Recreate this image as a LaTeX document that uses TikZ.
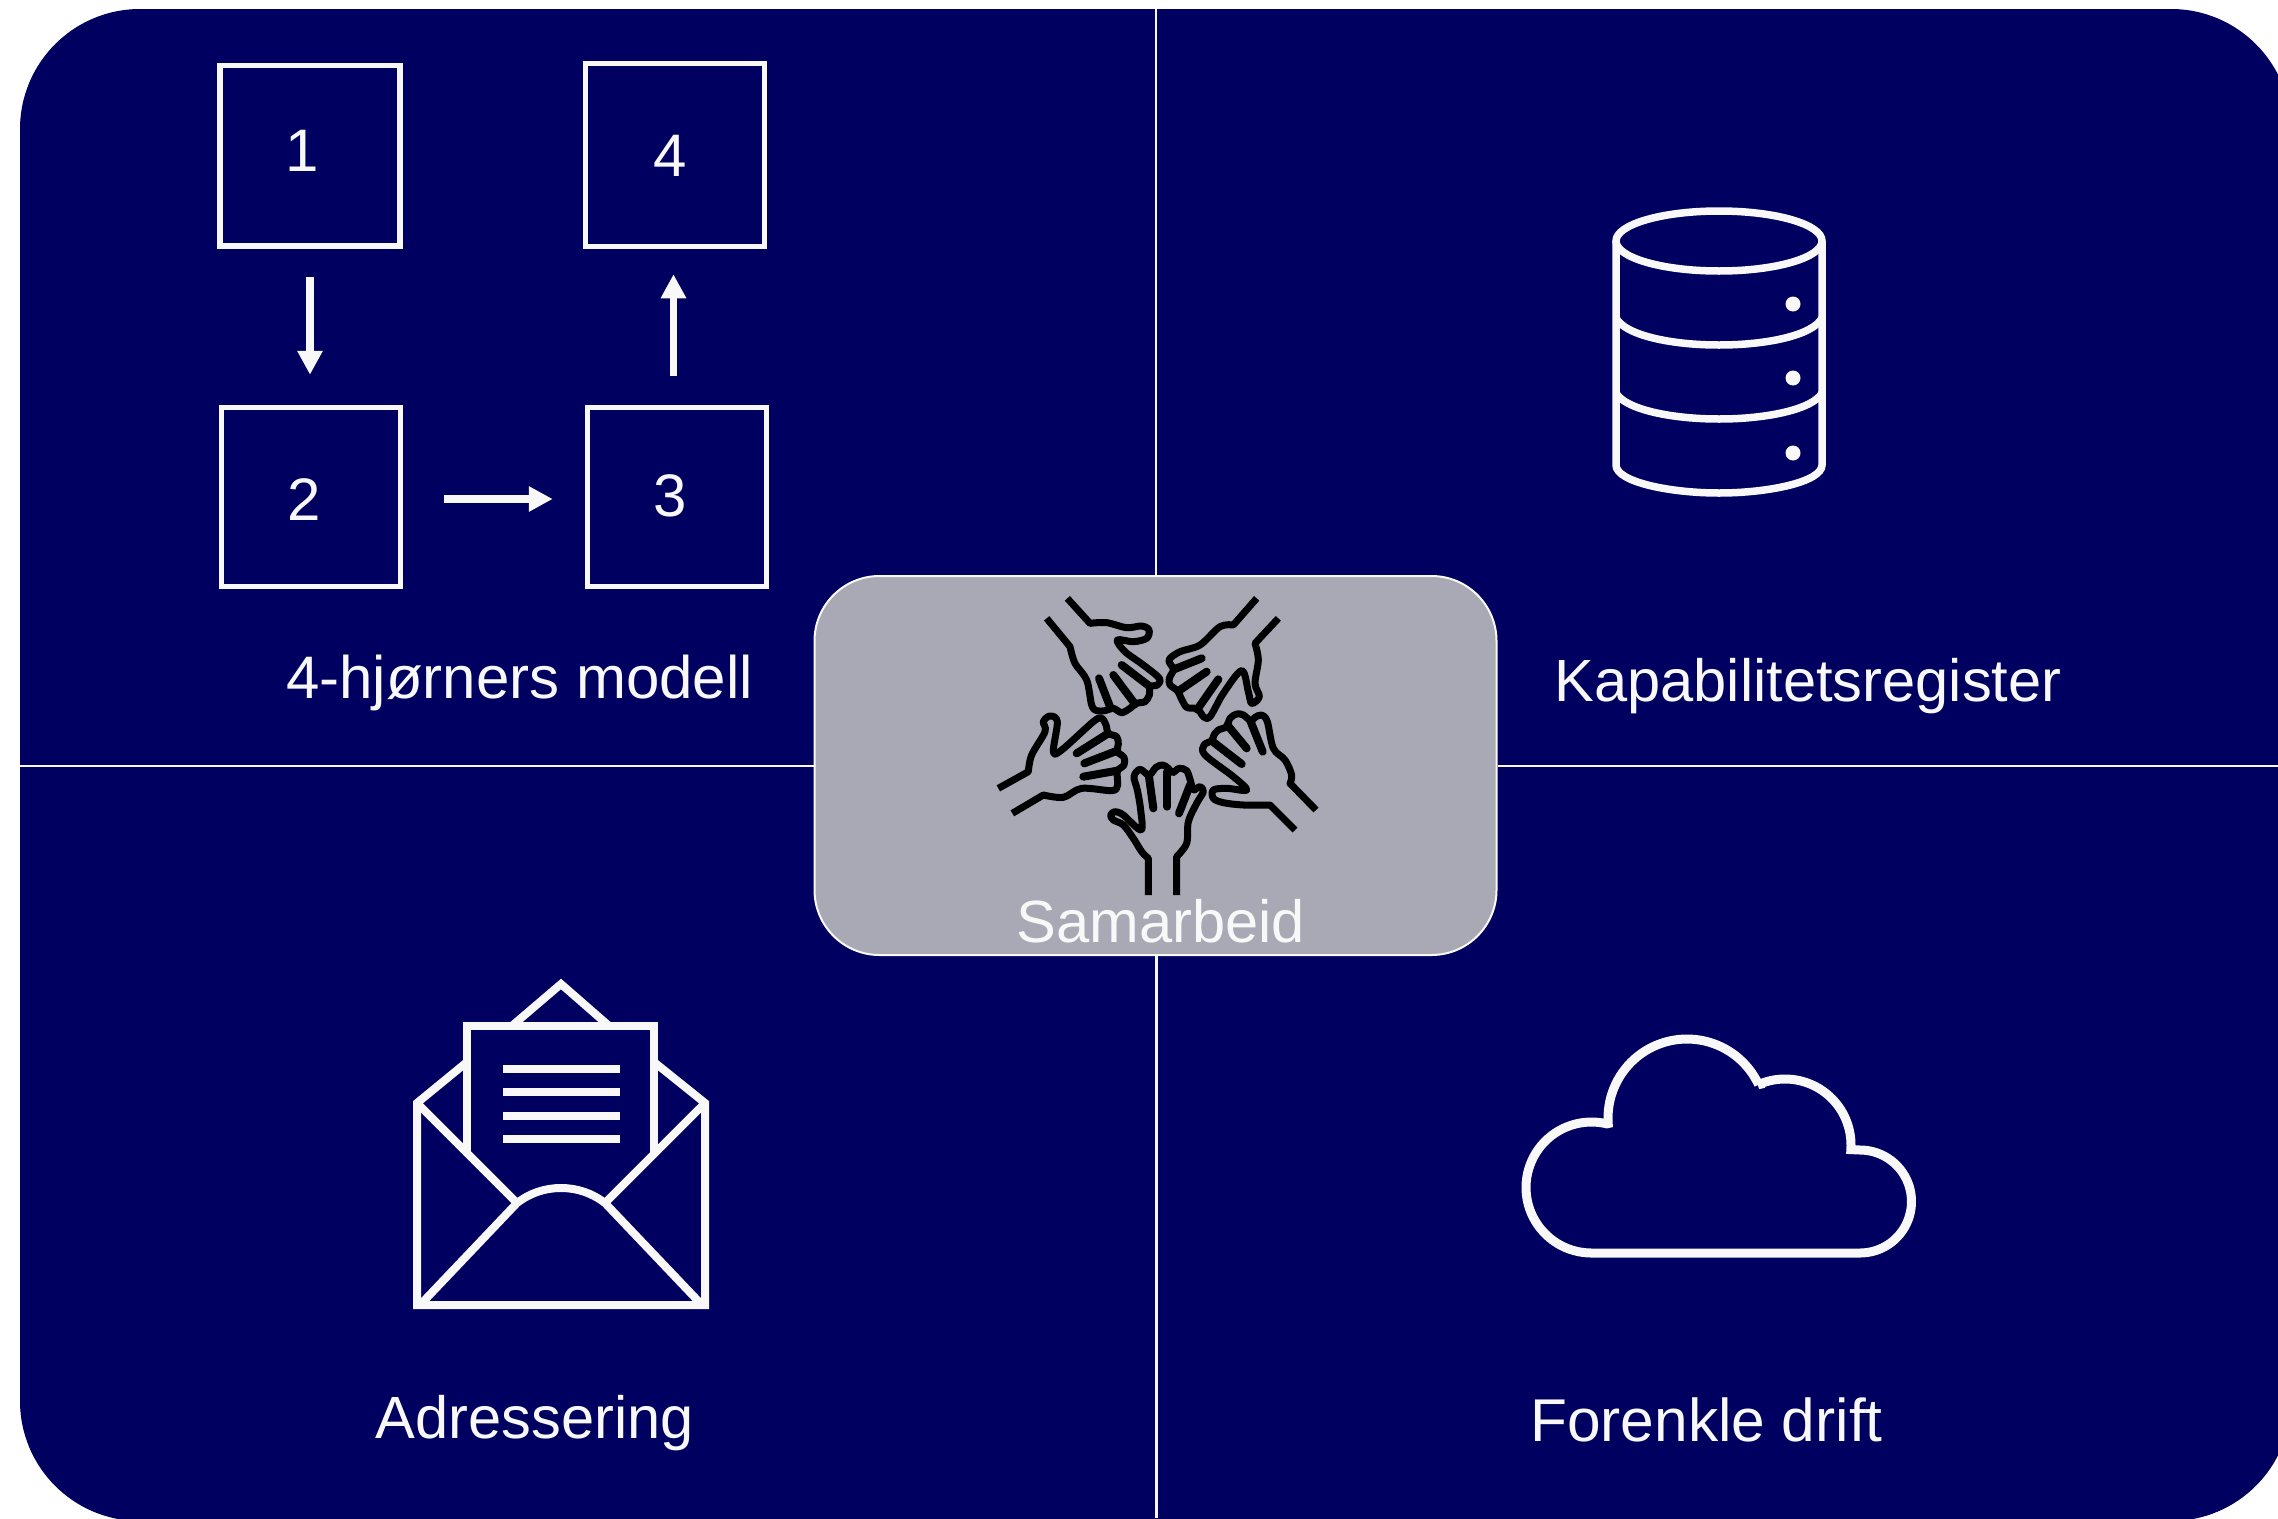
\documentclass[tikz,border=0pt]{standalone}
\usepackage{fontspec}
\setmainfont{Liberation Sans}
\usetikzlibrary{arrows.meta,calc}
\definecolor{navybg}{HTML}{000060}
\definecolor{greybox}{HTML}{A9A8B5}
\definecolor{offwhite}{HTML}{F8F8F8}
\tikzset{
  lbl/.style={text=offwhite,font=\fontsize{60}{72}\selectfont,inner sep=0pt,anchor=base},
  num/.style={text=offwhite,font=\fontsize{60}{72}\selectfont,inner sep=0pt},
  sq/.style={draw=offwhite,line width=5.5pt,minimum width=179pt,minimum height=179pt,inner sep=0pt},
  flow/.style={draw=offwhite,line width=7.5pt,-{Triangle[width=24pt,length=24pt]}},
  icon/.style={draw=offwhite,line width=8pt},
  rule/.style={draw=offwhite,line width=2pt},
  hand/.style={draw=black,line width=7pt,line join=round},
  slit/.style={draw=black,line width=8pt,line cap=round}
}
\begin{document}
\begin{tikzpicture}[x=1pt,y=-1pt]
\useasboundingbox (0,0) rectangle (2278,1518);
\clip (0,0) rectangle (2278,1518);
\fill[navybg,rounded corners=120pt] (20,9) rectangle (2291,1521);
% central box and quadrant rules
\node[draw=offwhite,fill=greybox,line width=2pt,rounded corners=65pt,minimum width=682pt,minimum height=379pt,inner sep=0pt] (collab) at (1155.5,765.5) {};
\coordinate (rt) at (1155.5,9);
\coordinate (rb) at (1156.5,1518);
\coordinate (rl) at (20,765.5);
\coordinate (rr) at (2278,765.5);
\draw[rule] (rt) -- (collab.north);
\draw[rule,line width=3pt] (rb) -- (rb |- collab.south);
\draw[rule] (rl) -- (collab.west);
\draw[rule] (collab.east) -- (rr);
% four corners
\node[sq,minimum width=180pt,minimum height=180.5pt] (b1) at (310,155.5) {};
\node[sq] (b2) at (311,497) {};
\node[sq] (b3) at (677,497) {};
\node[sq,minimum height=183pt] (b4) at (675,155) {};
\node[num] (n1) at (302,151) {1};
\node[num] (n2) at (304.5,500) {2};
\node[num] (n3) at (670,496) {3};
\node[num] (n4) at (670,156) {4};
\draw[flow,shorten <=28pt,shorten >=30pt] (b1.south) -- ([xshift=-1pt]b2.north);
\draw[flow,shorten <=41pt,shorten >=32pt] ([yshift=-2pt]b2.east) -- ([yshift=-2pt]b3.west);
\draw[flow,shorten <=29pt,shorten >=25pt] ([xshift=-3.5pt]b3.north) -- ([xshift=-1.5pt]b4.south);
% labels
\node[lbl] (t1) at (519.5,698.5) {4-hjørners modell};
\node[lbl,font=\fontsize{59.6}{72}\selectfont] (t2) at (1808,701.5) {Kapabilitetsregister};
\node[lbl,font=\fontsize{59.6}{72}\selectfont] (t3) at (535,1438) {Adressering};
\node[lbl,font=\fontsize{60.4}{72}\selectfont] (t4) at (1706.5,1441) {Forenkle drift};
\node[lbl,font=\fontsize{59.6}{72}\selectfont] (t5) at (1161,942) {Samarbeid};
% database
\draw[icon,line width=7.5pt] (1719,241) ellipse [x radius=103,y radius=30];
\draw[icon,line width=7.5pt] (1616,241) -- (1616,465) .. controls (1616,482) and (1670,493) .. (1719,493) .. controls (1768,493) and (1822,482) .. (1822,465) -- (1822,241);
\draw[icon,line width=7.5pt] (1616,318) .. controls (1625,335) and (1670,345) .. (1719,345) .. controls (1768,345) and (1813,335) .. (1822,318);
\draw[icon,line width=7.5pt] (1616,393) .. controls (1625,409) and (1670,419) .. (1719,419) .. controls (1768,419) and (1813,409) .. (1822,393);
\foreach \yy in {304,378,453} \fill[offwhite] (1793,\yy) circle [radius=7.5];
% cloud
\draw[icon,line width=9pt,miter limit=10] (1590,1253) -- (1860,1253)
  -- plot[domain=90:-90,samples=40] ({1860+51.5*cos(\x)},{1201.5+51.5*sin(\x)})
  -- plot[domain=4:-114,samples=40] ({1785+66*cos(\x)},{1145+66*sin(\x)})
  -- plot[domain=-25:-184,samples=50] ({1687+79*cos(\x)},{1118+79*sin(\x)})
  -- plot[domain=-76.5:-270,samples=50] ({1591.5+65.5*cos(\x)},{1187.5+65.5*sin(\x)})
  -- cycle;
% envelope
\draw[icon] (467,1062) -- (417,1103) -- (417,1305) -- (705,1305) -- (705,1103) -- (654,1062);
\draw[icon] (513,1025) -- (561,984) -- (608,1025);
\draw[icon] (467,1153) -- (467,1026) -- (654,1026) -- (654,1153);
\draw[icon] (417,1103) -- (517,1203);
\draw[icon] (705,1103) -- (605,1203);
\draw[icon] (420,1305) -- (517,1203) .. controls (530,1193) and (545,1188) .. (561,1188) .. controls (577,1188) and (592,1193) .. (605,1203) -- (702,1305);
\foreach \yy in {1069,1092,1116,1139} \draw[icon] (503,\yy) -- (620,\yy);
% hands
\begin{scope}[shift={(980,580)},x=0.33333pt,y=-0.33333pt]
% bottom
\draw[hand] (505,945) -- (505,835) -- plot[smooth,tension=.55] coordinates {(505,835) (485,815) (460,775) (430,735) (400,720) (392,705) (405,695) (430,705) (483,750) (482,690) (472,630) (462,590) (480,568) (507,585) (528,562) (548,555) (565,565) (578,578) (597,565) (620,572) (632,605) (640,630) (660,620) (670,635) (650,670) (625,725) (620,790) (590,830)} -- (590,945);
\draw[slit] (520,685) -- (507,590);
\draw[slit] (562,680) -- (562,575);
\draw[slit] (597,700) -- (630,615);
% top left
\draw[hand] (262,55) -- (330,130) -- plot[smooth,tension=.55] coordinates {(330,130) (380,128) (440,143) (485,138) (507,150) (500,175) (460,185) (412,180) (435,215) (490,255) (538,295) (532,315) (510,320) (508,345) (495,365) (470,370) (450,385) (425,398) (400,385) (375,392) (350,392) (335,375) (320,300) (285,250) (270,200)} -- (200,115);
\draw[slit] (425,255) -- (510,320);
\draw[slit] (400,285) -- (465,372);
\draw[slit] (357,295) -- (392,385);
% top right
\draw[hand] (830,55) -- (760,135) -- plot[smooth,tension=.55] coordinates {(760,135) (720,140) (660,195) (600,215) (567,240) (580,268) (568,295) (570,315) (592,332) (605,358) (620,382) (645,385) (660,395) (670,410) (690,410) (730,340) (785,272) (805,335) (815,370) (838,350) (825,310) (835,240) (825,190)} -- (895,115);
\draw[slit] (665,235) -- (582,268);
\draw[slit] (680,275) -- (597,332);
\draw[slit] (715,298) -- (652,388);
% left
\draw[hand] (55,625) -- (145,575) -- plot[smooth,tension=.55] coordinates {(145,575) (155,525) (195,455) (190,425) (210,408) (232,425) (220,515) (245,510) (340,425) (365,415) (378,435) (385,460) (410,470) (415,492) (412,515) (432,532) (432,555) (412,572) (412,592) (412,618) (395,632) (305,625) (250,652) (190,645)} -- (97,700);
\draw[slit] (290,520) -- (385,460);
\draw[slit] (313,550) -- (412,512);
\draw[slit] (310,590) -- (412,572);
% right
\draw[hand] (1008,690) -- (930,610) -- plot[smooth,tension=.55] coordinates {(930,610) (935,585) (915,540) (880,505) (862,425) (845,405) (825,412) (812,422) (790,405) (770,402) (750,415) (740,440) (715,450) (702,465) (695,482) (672,495) (675,525) (760,590) (800,630) (740,625) (700,630) (700,655) (730,668) (790,675) (870,675)} -- (945,750);
\draw[slit] (848,515) -- (812,425);
\draw[slit] (800,505) -- (742,435);
\draw[slit] (785,552) -- (697,484);
\end{scope}
\end{tikzpicture}
\end{document}
